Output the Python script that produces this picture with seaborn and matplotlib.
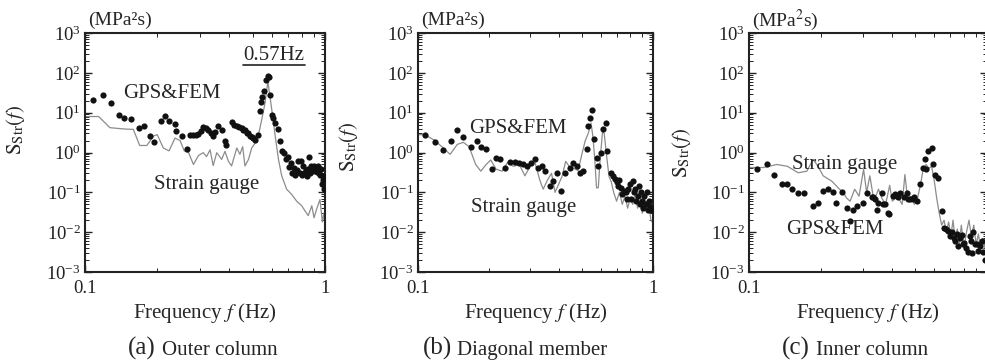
import numpy as np
import matplotlib
matplotlib.use("Agg")
import matplotlib.pyplot as plt
import seaborn as sns
from matplotlib.ticker import LogLocator, FuncFormatter, NullFormatter

# (a) Outer column
fa_gps = [0.108, 0.119, 0.128, 0.138, 0.146, 0.155, 0.168, 0.176, 0.187, 0.194,
          0.207, 0.215, 0.224, 0.237, 0.239, 0.253, 0.265, 0.274, 0.283, 0.290,
          0.296, 0.303, 0.311, 0.319, 0.327, 0.334, 0.340, 0.348, 0.359, 0.371,
          0.383, 0.387, 0.408, 0.418, 0.429, 0.440, 0.450, 0.457, 0.464, 0.472,
          0.480, 0.488, 0.495, 0.503, 0.511, 0.527, 0.536, 0.541, 0.548, 0.559,
          0.568, 0.576, 0.582, 0.590, 0.600, 0.609, 0.619, 0.635, 0.648, 0.664,
          0.675, 0.690, 0.700, 0.710, 0.720, 0.730, 0.742, 0.750, 0.762, 0.774,
          0.785, 0.794, 0.803, 0.810, 0.820, 0.830, 0.840, 0.850, 0.858, 0.866,
          0.874, 0.882, 0.890, 0.902, 0.915, 0.926, 0.938, 0.946, 0.953, 0.962,
          0.970, 0.978, 0.984, 0.992]
sa_gps = [21, 28, 17, 8.5, 7.5, 6.9, 4.2, 4.7, 2.6, 1.8,
          6.3, 8.2, 6.3, 5.2, 3.4, 2.6, 1.2, 2.7, 2.8, 2.7,
          2.9, 3.5, 4.3, 4.1, 3.7, 3.1, 2.6, 3.2, 4.7, 3.7,
          2.0, 1.5, 5.8, 5.0, 4.6, 4.4, 4.2, 3.6, 3.7, 3.0,
          3.0, 2.6, 2.5, 2.3, 2.1, 2.7, 11, 19, 25, 34,
          65, 84, 78, 28, 8.5, 7.4, 5.5, 3.8, 1.9, 1.07,
          0.95, 0.67, 0.75, 0.44, 0.55, 0.31, 0.42, 0.28, 0.37, 0.6,
          0.3, 0.6, 0.28, 0.45, 0.3, 0.37, 0.25, 0.38, 0.78, 0.3,
          0.47, 0.4, 0.34, 0.45, 0.41, 0.33, 0.46, 0.3, 0.28, 0.38,
          0.16, 0.25, 0.2, 0.12]
fa_sg = [0.100, 0.114, 0.127, 0.145, 0.159, 0.169, 0.181, 0.193, 0.200, 0.212,
         0.224, 0.237, 0.249, 0.259, 0.270, 0.283, 0.297, 0.311, 0.321, 0.332,
         0.342, 0.354, 0.371, 0.383, 0.396, 0.408, 0.429, 0.442, 0.454, 0.464,
         0.480, 0.495, 0.511, 0.527, 0.545, 0.562, 0.578, 0.600, 0.619, 0.640,
         0.660, 0.692, 0.726, 0.762, 0.800, 0.826, 0.851, 0.881, 0.900, 0.923,
         0.953, 0.975, 0.990, 1.0]
sa_sg = [8.0, 8.0, 4.2, 3.9, 3.8, 1.5, 1.5, 2.6, 2.8, 1.3,
         1.1, 2.3, 2.0, 1.1, 1.0, 0.5, 0.84, 0.99, 0.79, 1.17,
         0.47, 0.99, 0.67, 1.07, 0.6, 0.46, 1.3, 0.9, 1.4, 0.46,
         0.67, 1.3, 1.7, 2.6, 6.7, 17, 60, 12, 2.8, 0.67,
         0.26, 0.12, 0.089, 0.06, 0.046, 0.034, 0.026, 0.046, 0.023, 0.038,
         0.066, 0.018, 0.03, 0.015]

# (b) Diagonal member
fb_gps = [0.107, 0.118, 0.128, 0.138, 0.146, 0.156, 0.168, 0.178, 0.185, 0.195,
          0.206, 0.215, 0.223, 0.234, 0.246, 0.259, 0.270, 0.281, 0.290, 0.302,
          0.315, 0.325, 0.336, 0.347, 0.365, 0.377, 0.389, 0.405, 0.422, 0.443,
          0.458, 0.473, 0.489, 0.505, 0.522, 0.530, 0.537, 0.550, 0.563, 0.575,
          0.585, 0.600, 0.612, 0.628, 0.640, 0.660, 0.675, 0.688, 0.700, 0.707,
          0.720, 0.730, 0.740, 0.752, 0.766, 0.775, 0.785, 0.800, 0.810, 0.822,
          0.830, 0.840, 0.850, 0.860, 0.870, 0.880, 0.890, 0.900, 0.910, 0.920,
          0.930, 0.940, 0.950, 0.960, 0.970, 0.985]
sb_gps = [2.7, 1.8, 1.15, 2.0, 3.6, 2.5, 1.4, 1.9, 1.4, 1.2,
          0.38, 0.74, 0.7, 0.42, 0.57, 0.57, 0.55, 0.5, 0.47, 0.53,
          0.7, 0.42, 0.47, 0.34, 0.145, 0.19, 0.3, 0.107, 0.31, 0.42,
          0.53, 0.47, 0.31, 0.34, 1.2, 4.6, 7.4, 12, 2.2, 0.74,
          0.46, 0.98, 3.8, 5.5, 1.07, 0.3, 0.25, 0.21, 0.18, 0.145,
          0.2, 0.13, 0.09, 0.11, 0.1, 0.07, 0.12, 0.16, 0.07, 0.19,
          0.1, 0.12, 0.06, 0.08, 0.145, 0.05, 0.1, 0.06, 0.04, 0.08,
          0.05, 0.1, 0.035, 0.06, 0.042, 0.035]
fb_sg = [0.100, 0.107, 0.118, 0.128, 0.137, 0.147, 0.156, 0.165, 0.176, 0.185,
         0.195, 0.204, 0.215, 0.228, 0.240, 0.255, 0.270, 0.285, 0.300, 0.315,
         0.330, 0.341, 0.355, 0.370, 0.383, 0.395, 0.410, 0.425, 0.440, 0.460,
         0.480, 0.500, 0.515, 0.530, 0.545, 0.555, 0.565, 0.575, 0.585, 0.595,
         0.610, 0.620, 0.635, 0.650, 0.665, 0.680, 0.700, 0.720, 0.740, 0.760,
         0.780, 0.800, 0.820, 0.840, 0.860, 0.880, 0.900, 0.920, 0.940, 0.960,
         0.980, 1.0]
sb_sg = [2.8, 2.8, 2.0, 1.3, 0.9, 1.6, 1.8, 1.4, 0.5, 0.34,
         0.5, 0.65, 0.38, 0.34, 0.55, 0.45, 0.5, 0.26, 0.45, 0.55,
         0.2, 0.12, 0.2, 0.3, 0.1, 0.15, 0.25, 0.6, 0.45, 0.4,
         0.35, 1.0, 2.0, 3.0, 5.5, 2.5, 0.7, 0.13, 0.13, 0.6,
         3.4, 3.0, 0.8, 0.25, 0.18, 0.1, 0.06, 0.1, 0.05, 0.08,
         0.04, 0.07, 0.05, 0.09, 0.04, 0.06, 0.03, 0.07, 0.04, 0.05,
         0.02, 0.017]

# (c) Inner column
fc_gps = [0.108, 0.119, 0.127, 0.137, 0.144, 0.151, 0.161, 0.170, 0.186, 0.195,
          0.205, 0.215, 0.225, 0.233, 0.245, 0.257, 0.266, 0.274, 0.285, 0.302,
          0.314, 0.328, 0.333, 0.338, 0.344, 0.350, 0.361, 0.367, 0.373, 0.385,
          0.389, 0.404, 0.412, 0.420, 0.424, 0.430, 0.446, 0.460, 0.467, 0.475,
          0.489, 0.494, 0.506, 0.523, 0.540, 0.548, 0.556, 0.566, 0.586, 0.594,
          0.605, 0.621, 0.649, 0.662, 0.675, 0.688, 0.700, 0.715, 0.725, 0.734,
          0.745, 0.757, 0.770, 0.783, 0.793, 0.803, 0.815, 0.834, 0.845, 0.857,
          0.866, 0.876, 0.890, 0.906, 0.920, 0.935, 0.950, 0.964, 0.980]
sc_gps = [0.39, 0.5, 0.28, 0.16, 0.16, 0.12, 0.098, 0.098, 0.045, 0.053,
          0.107, 0.12, 0.1, 0.055, 0.1, 0.041, 0.019, 0.035, 0.046, 0.053,
          0.098, 0.075, 0.075, 0.068, 0.037, 0.055, 0.098, 0.05, 0.05, 0.03,
          0.028, 0.08, 0.089, 0.08, 0.078, 0.098, 0.075, 0.098, 0.068, 0.068,
          0.068, 0.078, 0.06, 0.16, 0.42, 0.7, 0.38, 1.07, 1.3, 0.5,
          0.28, 0.23, 0.034, 0.013, 0.012, 0.0108, 0.008, 0.0099, 0.007, 0.006,
          0.009, 0.0046, 0.007, 0.0085, 0.005, 0.0055, 0.004, 0.0031, 0.008, 0.006,
          0.003, 0.01, 0.005, 0.005, 0.0034, 0.0046, 0.006, 0.0031, 0.002]
fc_sg = [0.100, 0.115, 0.131, 0.145, 0.161, 0.175, 0.186, 0.195, 0.205, 0.223,
         0.240, 0.249, 0.258, 0.266, 0.278, 0.290, 0.303, 0.312, 0.322, 0.335,
         0.350, 0.362, 0.375, 0.390, 0.400, 0.420, 0.440, 0.452, 0.465, 0.480,
         0.495, 0.510, 0.525, 0.540, 0.555, 0.570, 0.585, 0.600, 0.615, 0.630,
         0.645, 0.660, 0.675, 0.690, 0.705, 0.720, 0.735, 0.750, 0.765, 0.780,
         0.800, 0.820, 0.840, 0.860, 0.880, 0.900, 0.920, 0.940, 0.960, 0.980,
         1.0]
sc_sg = [0.42, 0.42, 0.5, 0.45, 0.31, 0.34, 0.67, 0.45, 0.26, 0.19,
         0.12, 0.098, 0.07, 0.06, 0.12, 0.08, 0.38, 0.1, 0.26, 0.06,
         0.12, 0.07, 0.05, 0.15, 0.06, 0.08, 0.05, 0.28, 0.06, 0.08,
         0.05, 0.07, 0.15, 0.4, 0.5, 0.4, 0.45, 0.2, 0.07, 0.03,
         0.015, 0.02, 0.01, 0.018, 0.008, 0.02, 0.006, 0.012, 0.005, 0.015,
         0.004, 0.01, 0.02, 0.008, 0.015, 0.005, 0.009, 0.004, 0.007, 0.004,
         0.006]

captions = [("(a)", "Outer column"), ("(b)", "Diagonal member"), ("(c)", "Inner column")]
units = ["(MPa\u00b2s)", "(MPa\u00b2s)", r"(MPa$^2$s)"]

sns.set_style("ticks")
plt.rcParams["font.family"] = ["Liberation Serif", "DejaVu Serif"]
plt.rcParams["mathtext.fontset"] = "stix"

W, H = 985, 364
fig = plt.figure(figsize=(W / 100, H / 100), dpi=100)

# pixel boxes: left, width; all share top=33, bottom=272
boxes = [(85, 240), (418, 235), (749, 238)]
ylab_pos = [(-0.242, 0.594), (-0.247, 0.523), (-0.235, 0.498)]
cap_x = [128, 423, 782]

panels = [
    (fa_gps, sa_gps, fa_sg, sa_sg),
    (fb_gps, sb_gps, fb_sg, sb_sg),
    (fc_gps, sc_gps, fc_sg, sc_sg),
]
text_pos = [
    ((0.3625, 0.745), (0.508, 0.368)),
    ((0.4255, 0.6025), (0.451, 0.268)),
    ((0.361, 0.176), (0.403, 0.448)),
]


def freq_label(v, _):
    return f"{v:g}"


def freq_label_c(v, _):
    # the right end of panel (c) is cut off in the source, so no "1"
    return "0.1" if v < 0.5 else ""


for i, (fg, sg, fl, sl) in enumerate(panels):
    left, width = boxes[i]
    ax = fig.add_axes([left / W, (H - 272) / H, width / W, 239 / H])

    sns.lineplot(x=fl, y=sl, ax=ax, color="#8c8c8c", linewidth=0.9)
    sns.scatterplot(x=fg, y=sg, ax=ax, color="#111111", s=20, linewidth=0, zorder=3)

    ax.set_xscale("log")
    ax.set_yscale("log")
    ax.set_xlim(0.1, 1)
    ax.set_ylim(1e-3, 1e3)
    ax.xaxis.set_major_formatter(FuncFormatter(freq_label_c if i == 2 else freq_label))
    ax.xaxis.set_minor_formatter(NullFormatter())
    ax.yaxis.set_major_locator(LogLocator(base=10, numticks=10))
    ax.yaxis.set_minor_locator(LogLocator(base=10, subs=np.arange(2, 10), numticks=20))
    ax.yaxis.set_minor_formatter(NullFormatter())
    ax.tick_params(which="both", direction="in", top=True, right=True,
                   labelsize=13.5, colors="#222222")
    ax.tick_params(which="major", length=5, width=1.0)
    ax.tick_params(which="minor", length=3, width=0.7)
    ax.tick_params(axis="x", which="major", pad=5.5)
    ax.tick_params(axis="y", which="major", pad=3)
    for sp in ax.spines.values():
        sp.set_linewidth(1.5)
        sp.set_color("#222222")

    ax.set_xlabel(r"Frequency $f$ (Hz)", fontsize=15)
    ax.xaxis.set_label_coords(0.5, -0.12)
    ax.set_ylabel(r"$\mathrm{S}_{\mathrm{Str}}(f)$", fontsize=15)
    ax.yaxis.set_label_coords(*ylab_pos[i])

    ax.text(0.012, 1.054, units[i], transform=ax.transAxes, fontsize=14,
            ha="left", va="center")

    (gx, gy), (sx, sy) = text_pos[i]
    ax.text(gx, gy, "GPS&FEM", transform=ax.transAxes, fontsize=15,
            ha="center", va="center")
    ax.text(sx, sy, "Strain gauge", transform=ax.transAxes, fontsize=15,
            ha="center", va="center")

    if i == 0:
        ax.text(0.7875, 0.905, "0.57Hz", transform=ax.transAxes, fontsize=15,
                ha="center", va="center")
        ax.plot([0.658, 0.917], [0.866, 0.866], transform=ax.transAxes,
                color="#222222", linewidth=1.2)

    fig.text(cap_x[i] / W, 0.025, captions[i][0], fontsize=18, ha="left", va="baseline")
    fig.text((cap_x[i] + 34) / W, 0.025, captions[i][1], fontsize=15, ha="left", va="baseline")

fig.savefig("out.png", dpi=100)
